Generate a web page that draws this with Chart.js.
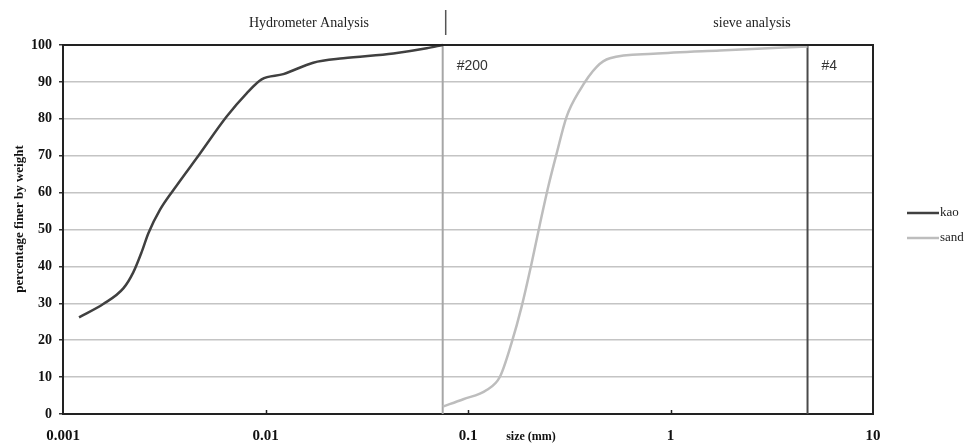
<!DOCTYPE html>
<html>
<head>
<meta charset="utf-8">
<script src="https://cdn.jsdelivr.net/npm/chart.js@4/dist/chart.umd.min.js"></script>
<style>
  html, body { margin: 0; padding: 0; background: #fff; }
  #wrap { width: 968px; height: 443px; }
</style>
</head>
<body>
<div id="wrap"><canvas id="gradation"></canvas></div>
<script>
// grain size (mm) and percent passing
var kaoSize = [0.0012, 0.00158, 0.00199, 0.00222, 0.00245, 0.00264, 0.00301, 0.00351, 0.00475, 0.00643, 0.00807, 0.00957, 0.01225, 0.0172, 0.0242, 0.0428, 0.0625, 0.075];
var kaoFiner = [26.2, 29.8, 34.1, 38.3, 44.0, 49.0, 55.3, 60.7, 70.6, 80.6, 86.9, 90.7, 92.1, 95.2, 96.4, 97.7, 99.1, 100];

var sandSize = [0.075, 0.0948, 0.1236, 0.1438, 0.164, 0.184, 0.206, 0.227, 0.249, 0.274, 0.307, 0.357, 0.432, 0.502, 0.822, 1.75, 4.75];
var sandFiner = [2.0, 4.0, 6.5, 10.1, 19.2, 29.1, 40.8, 51.7, 61.6, 70.6, 80.6, 87.8, 94.1, 96.4, 97.6, 98.5, 99.6];

// sieve openings marked on the plot
var sieveSize = [0.075, 4.75];
var sieveName = ["#200", "#4"];
var sieveColor = ["#a6a6a6", "#4a4a4a"];

var xTicks = [0.001, 0.01, 0.1, 1, 10];
var seriesNames = ["kao", "sand"];
var seriesColors = ["#404040", "#bdbdbd"];

var serif = "'Liberation Serif', 'Times New Roman', serif";

function pts(xs, ys) {
    return xs.map(function (x, i) { return { x: x, y: ys[i] }; });
}

var datasets = [
    { label: seriesNames[0], data: pts(kaoSize, kaoFiner), borderColor: seriesColors[0], borderWidth: 2.5 },
    { label: seriesNames[1], data: pts(sandSize, sandFiner), borderColor: seriesColors[1], borderWidth: 2.5 }
];
sieveSize.forEach(function (s, i) {
    datasets.push({ label: sieveName[i], data: [{ x: s, y: 0 }, { x: s, y: 100 }], borderColor: sieveColor[i], borderWidth: 2 });
});
datasets.forEach(function (d) {
    d.pointRadius = 0;
    d.fill = false;
    d.cubicInterpolationMode = "monotone";
    d.clip = 4;
});

// headers, labels, frame and key
var extras = {
    id: "extras",
    afterDraw: function (chart) {
        var ctx = chart.ctx;
        var a = chart.chartArea;
        var xs = chart.scales.x;
        ctx.save();

        // frame top and right
        ctx.strokeStyle = "#222";
        ctx.lineWidth = 2;
        ctx.beginPath();
        ctx.moveTo(a.left, a.top);
        ctx.lineTo(a.right, a.top);
        ctx.lineTo(a.right, a.bottom);
        ctx.stroke();

        // small inside ticks on the size axis
        ctx.lineWidth = 1.5;
        [0.01, 0.1, 1].forEach(function (v) {
            var px = Math.round(xs.getPixelForValue(v)) + 0.5;
            ctx.beginPath();
            ctx.moveTo(px, a.bottom);
            ctx.lineTo(px, a.bottom - 4);
            ctx.stroke();
        });

        // header
        var split = xs.getPixelForValue(sieveSize[0]) + 3;
        ctx.strokeStyle = "#555";
        ctx.lineWidth = 1.5;
        ctx.beginPath();
        ctx.moveTo(split, 10);
        ctx.lineTo(split, 35);
        ctx.stroke();
        ctx.fillStyle = "#222";
        ctx.font = "14px " + serif;
        ctx.textAlign = "center";
        ctx.textBaseline = "middle";
        ctx.fillText("Hydrometer Analysis", 309, 23);
        ctx.fillText("sieve analysis", 752, 23);

        // sieve names
        ctx.font = "14px 'Liberation Sans', Arial, sans-serif";
        ctx.fillStyle = "#333";
        ctx.textAlign = "left";
        sieveSize.forEach(function (s, i) {
            ctx.fillText(sieveName[i], xs.getPixelForValue(s) + 14, a.top + 21);
        });

        // axis titles
        ctx.fillStyle = "#111";
        ctx.font = "bold 12px " + serif;
        ctx.textAlign = "center";
        ctx.fillText("size (mm)", 531, 437);

        ctx.save();
        ctx.translate(20, 219);
        ctx.rotate(-Math.PI / 2);
        ctx.font = "bold 13px " + serif;
        ctx.fillText("percentage finer by weight", 0, 0);
        ctx.restore();

        // key
        ctx.font = "13px " + serif;
        ctx.textAlign = "left";
        seriesNames.forEach(function (n, i) {
            var y = 213 + i * 25;
            ctx.strokeStyle = seriesColors[i];
            ctx.lineWidth = 2.5;
            ctx.beginPath();
            ctx.moveTo(907, y);
            ctx.lineTo(939, y);
            ctx.stroke();
            ctx.fillStyle = "#222";
            ctx.fillText(n, 940, y);
        });

        ctx.restore();
    }
};

new Chart("gradation", {
    type: "line",
    data: { datasets: datasets },
    plugins: [extras],
    options: {
        responsive: true,
        maintainAspectRatio: false,
        animation: false,
        parsing: false,
        layout: { padding: { top: 45, right: 95, left: 0, bottom: 0 } },
        plugins: {
            legend: { display: false },
            tooltip: { enabled: false }
        },
        scales: {
            x: {
                type: "logarithmic",
                min: 0.001,
                max: 10,
                afterBuildTicks: function (scale) {
                    scale.ticks = xTicks.map(function (v) { return { value: v }; });
                },
                afterFit: function (scale) { scale.height = 29; },
                ticks: {
                    autoSkip: false,
                    maxRotation: 0,
                    padding: 5,
                    color: "#111",
                    font: { family: serif, size: 15, weight: "bold" },
                    callback: function (v) { return String(v); }
                },
                grid: { display: false },
                border: { display: true, color: "#222", width: 2 }
            },
            y: {
                min: 0,
                max: 100,
                afterFit: function (scale) { scale.width = 63; },
                ticks: {
                    stepSize: 10,
                    padding: 7,
                    color: "#111",
                    font: { family: serif, size: 14, weight: "bold" }
                },
                grid: { color: "#c4c4c4", lineWidth: 1.5, tickLength: 4, tickColor: "#333" },
                border: { display: true, color: "#222", width: 2 }
            }
        }
    }
});
</script>
</body>
</html>
